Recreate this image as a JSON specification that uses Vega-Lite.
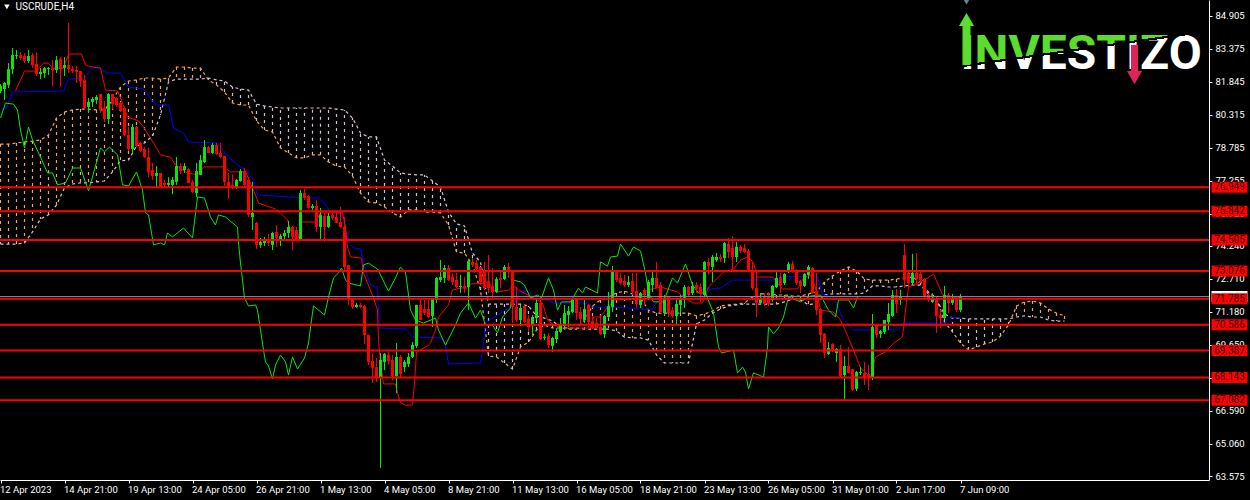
{
  "$schema": "https://vega.github.io/schema/vega-lite/v6.json",
  "description": "USCRUDE,H4",
  "width": 1209,
  "height": 480,
  "padding": {"left": 0, "top": 0, "right": 41, "bottom": 20},
  "autosize": {"type": "none"},
  "background": "#000000",
  "config": {
    "view": {"stroke": null},
    "axis": {"grid": false, "title": null, "domainColor": "#ffffff", "tickColor": "#ffffff", "labelColor": "#ffffff", "labelFont": "Roboto", "labelFontSize": 9.5, "tickSize": 3, "domainWidth": 1, "tickWidth": 1, "labelOverlap": false}
  },
  "datasets": {
    "candles": [
      {"i":0,"o":81.41,"h":81.73,"l":81.31,"c":81.64},{"i":1,"o":81.50,"h":81.83,"l":80.99,"c":81.78},{"i":2,"o":81.69,"h":82.70,"l":81.55,"c":82.42},{"i":3,"o":82.42,"h":83.40,"l":82.19,"c":83.07},{"i":4,"o":83.03,"h":83.31,"l":82.89,"c":83.07},
      {"i":5,"o":83.07,"h":83.21,"l":82.84,"c":82.94},{"i":6,"o":83.03,"h":83.17,"l":82.70,"c":82.80},{"i":7,"o":82.80,"h":83.31,"l":82.70,"c":83.03},{"i":8,"o":83.07,"h":83.17,"l":82.47,"c":82.61},{"i":9,"o":82.66,"h":83.21,"l":82.10,"c":82.19},
      {"i":10,"o":82.19,"h":82.47,"l":81.96,"c":82.29},{"i":11,"o":82.24,"h":82.52,"l":82.01,"c":82.47},{"i":12,"o":82.42,"h":82.52,"l":82.15,"c":82.47},{"i":13,"o":82.47,"h":82.84,"l":81.64,"c":82.38},{"i":14,"o":82.38,"h":83.03,"l":82.24,"c":82.84},
      {"i":15,"o":82.89,"h":82.98,"l":81.59,"c":82.42},{"i":16,"o":82.47,"h":82.98,"l":82.10,"c":82.61},{"i":17,"o":82.61,"h":84.56,"l":82.24,"c":82.42},{"i":18,"o":82.42,"h":82.57,"l":82.24,"c":82.33},{"i":19,"o":82.38,"h":82.57,"l":81.78,"c":82.29},
      {"i":20,"o":82.33,"h":82.33,"l":81.59,"c":81.87},{"i":21,"o":81.92,"h":82.15,"l":80.53,"c":80.62},{"i":22,"o":80.67,"h":81.08,"l":80.39,"c":80.90},{"i":23,"o":80.90,"h":81.13,"l":80.67,"c":81.04},{"i":24,"o":80.99,"h":81.22,"l":80.80,"c":81.13},
      {"i":25,"o":81.27,"h":81.27,"l":80.39,"c":80.57},{"i":26,"o":80.62,"h":80.94,"l":79.97,"c":80.11},{"i":27,"o":80.11,"h":81.31,"l":79.88,"c":81.27},{"i":28,"o":81.27,"h":81.27,"l":80.57,"c":80.80},{"i":29,"o":81.08,"h":81.13,"l":80.67,"c":80.76},
      {"i":30,"o":80.85,"h":80.90,"l":80.43,"c":80.48},{"i":31,"o":80.62,"h":80.71,"l":79.32,"c":79.37},{"i":32,"o":79.37,"h":79.74,"l":78.63,"c":78.72},{"i":33,"o":78.72,"h":79.88,"l":78.54,"c":79.74},{"i":34,"o":79.74,"h":79.79,"l":78.81,"c":78.86},
      {"i":35,"o":79.00,"h":79.05,"l":78.59,"c":78.63},{"i":36,"o":78.72,"h":78.81,"l":78.31,"c":78.35},{"i":37,"o":78.35,"h":78.77,"l":77.42,"c":77.66},{"i":38,"o":77.75,"h":78.07,"l":77.29,"c":77.47},{"i":39,"o":77.47,"h":77.93,"l":76.92,"c":77.61},
      {"i":40,"o":77.61,"h":77.61,"l":76.92,"c":76.96},{"i":41,"o":77.15,"h":77.29,"l":76.92,"c":77.06},{"i":42,"o":77.06,"h":77.42,"l":76.96,"c":77.15},{"i":43,"o":77.06,"h":77.42,"l":76.63,"c":77.29},{"i":44,"o":77.20,"h":78.35,"l":77.06,"c":77.93},
      {"i":45,"o":77.93,"h":78.07,"l":77.56,"c":77.70},{"i":46,"o":77.75,"h":78.07,"l":77.61,"c":77.93},{"i":47,"o":77.79,"h":77.84,"l":77.15,"c":77.15},{"i":48,"o":77.20,"h":77.29,"l":76.68,"c":76.73},{"i":49,"o":76.68,"h":78.07,"l":76.49,"c":77.70},
      {"i":50,"o":77.52,"h":78.45,"l":77.52,"c":78.21},{"i":51,"o":78.12,"h":79.14,"l":78.07,"c":78.81},{"i":52,"o":78.81,"h":78.86,"l":78.54,"c":78.54},{"i":53,"o":78.54,"h":79.00,"l":78.49,"c":78.91},{"i":54,"o":78.91,"h":79.00,"l":78.45,"c":78.49},
      {"i":55,"o":78.54,"h":79.00,"l":78.31,"c":78.35},{"i":56,"o":78.40,"h":78.40,"l":77.01,"c":77.20},{"i":57,"o":77.20,"h":77.61,"l":76.41,"c":76.96},{"i":58,"o":77.06,"h":77.56,"l":76.87,"c":76.92},{"i":59,"o":76.96,"h":77.33,"l":76.87,"c":77.29},
      {"i":60,"o":77.24,"h":77.79,"l":77.20,"c":77.70},{"i":61,"o":77.70,"h":77.84,"l":76.92,"c":77.06},{"i":62,"o":77.29,"h":77.42,"l":75.57,"c":75.67},{"i":63,"o":75.57,"h":77.20,"l":74.97,"c":75.76},{"i":64,"o":75.30,"h":75.34,"l":74.09,"c":74.28},
      {"i":65,"o":74.28,"h":74.60,"l":74.14,"c":74.42},{"i":66,"o":74.37,"h":74.65,"l":74.23,"c":74.55},{"i":67,"o":74.51,"h":74.79,"l":74.23,"c":74.37},{"i":68,"o":74.28,"h":74.88,"l":74.04,"c":74.83},{"i":69,"o":74.88,"h":75.20,"l":74.19,"c":74.60},
      {"i":70,"o":74.55,"h":74.79,"l":74.23,"c":74.69},{"i":71,"o":74.69,"h":74.97,"l":74.46,"c":74.83},{"i":72,"o":74.83,"h":75.39,"l":74.60,"c":75.11},{"i":73,"o":75.11,"h":75.16,"l":74.04,"c":74.65},{"i":74,"o":74.97,"h":75.11,"l":74.42,"c":74.51},
      {"i":75,"o":74.46,"h":76.82,"l":74.46,"c":76.68},{"i":76,"o":76.68,"h":76.87,"l":76.36,"c":76.45},{"i":77,"o":76.54,"h":76.59,"l":75.95,"c":75.99},{"i":78,"o":75.99,"h":76.17,"l":75.90,"c":76.08},{"i":79,"o":76.08,"h":76.36,"l":74.88,"c":75.11},
      {"i":80,"o":75.11,"h":75.99,"l":74.51,"c":75.67},{"i":81,"o":75.62,"h":75.76,"l":74.42,"c":75.11},{"i":82,"o":75.11,"h":75.76,"l":75.06,"c":75.62},{"i":83,"o":75.67,"h":75.76,"l":75.43,"c":75.53},{"i":84,"o":75.57,"h":75.76,"l":75.30,"c":75.30},
      {"i":85,"o":75.34,"h":76.04,"l":75.06,"c":75.11},{"i":86,"o":75.11,"h":75.57,"l":73.02,"c":73.26},{"i":87,"o":73.35,"h":73.35,"l":71.50,"c":71.82},{"i":88,"o":71.82,"h":71.82,"l":71.31,"c":71.40},{"i":89,"o":71.40,"h":71.59,"l":71.36,"c":71.50},
      {"i":90,"o":71.50,"h":71.59,"l":71.36,"c":71.40},{"i":91,"o":71.45,"h":71.50,"l":69.69,"c":70.11},{"i":92,"o":70.11,"h":70.11,"l":68.72,"c":68.86},{"i":93,"o":68.90,"h":69.27,"l":67.88,"c":68.58},{"i":94,"o":68.62,"h":69.04,"l":67.93,"c":68.16},
      {"i":95,"o":68.12,"h":69.27,"l":63.95,"c":68.95},{"i":96,"o":68.86,"h":69.27,"l":68.48,"c":69.23},{"i":97,"o":69.18,"h":69.32,"l":68.72,"c":68.90},{"i":98,"o":68.95,"h":69.18,"l":68.02,"c":68.21},{"i":99,"o":68.21,"h":69.73,"l":67.42,"c":69.09},
      {"i":100,"o":69.09,"h":69.18,"l":68.16,"c":68.30},{"i":101,"o":68.62,"h":68.95,"l":68.39,"c":68.86},{"i":102,"o":68.76,"h":69.27,"l":68.62,"c":69.09},{"i":103,"o":69.09,"h":69.78,"l":69.04,"c":69.64},{"i":104,"o":69.60,"h":71.50,"l":69.50,"c":71.50},
      {"i":105,"o":71.50,"h":71.73,"l":70.80,"c":70.80},{"i":106,"o":71.31,"h":71.73,"l":71.03,"c":71.12},{"i":107,"o":71.31,"h":71.73,"l":70.89,"c":70.94},{"i":108,"o":70.99,"h":71.82,"l":70.48,"c":71.82},{"i":109,"o":71.73,"h":72.79,"l":71.59,"c":72.75},
      {"i":110,"o":72.65,"h":73.58,"l":72.56,"c":72.79},{"i":111,"o":72.75,"h":73.35,"l":72.51,"c":73.21},{"i":112,"o":73.21,"h":73.35,"l":72.61,"c":72.65},{"i":113,"o":72.79,"h":72.98,"l":72.42,"c":72.56},{"i":114,"o":72.65,"h":72.98,"l":72.28,"c":72.33},
      {"i":115,"o":72.33,"h":72.89,"l":72.05,"c":72.38},{"i":116,"o":72.38,"h":72.79,"l":72.05,"c":72.28},{"i":117,"o":72.33,"h":73.63,"l":71.26,"c":73.53},{"i":118,"o":73.49,"h":73.67,"l":73.26,"c":73.35},{"i":119,"o":73.44,"h":73.58,"l":73.12,"c":73.16},
      {"i":120,"o":73.26,"h":73.26,"l":72.42,"c":72.56},{"i":121,"o":73.02,"h":73.49,"l":72.19,"c":72.28},{"i":122,"o":72.61,"h":73.81,"l":72.05,"c":72.28},{"i":123,"o":72.38,"h":73.21,"l":71.82,"c":72.10},{"i":124,"o":72.10,"h":72.79,"l":72.05,"c":72.70},
      {"i":125,"o":72.75,"h":73.12,"l":72.28,"c":72.65},{"i":126,"o":72.70,"h":73.35,"l":72.65,"c":73.26},{"i":127,"o":73.26,"h":73.44,"l":72.75,"c":73.02},{"i":128,"o":73.07,"h":73.12,"l":70.66,"c":71.40},{"i":129,"o":71.40,"h":72.33,"l":70.71,"c":70.80},
      {"i":130,"o":70.80,"h":71.50,"l":70.66,"c":71.36},{"i":131,"o":71.45,"h":71.50,"l":70.66,"c":70.71},{"i":132,"o":70.85,"h":71.03,"l":70.25,"c":70.48},{"i":133,"o":70.57,"h":71.03,"l":70.02,"c":70.94},{"i":134,"o":70.89,"h":71.82,"l":70.80,"c":71.59},
      {"i":135,"o":71.59,"h":71.73,"l":69.87,"c":69.92},{"i":136,"o":69.97,"h":70.16,"l":69.87,"c":70.02},{"i":137,"o":70.06,"h":70.20,"l":69.50,"c":69.64},{"i":138,"o":69.60,"h":70.02,"l":69.32,"c":69.97},{"i":139,"o":69.92,"h":70.43,"l":69.73,"c":70.29},
      {"i":140,"o":70.25,"h":70.89,"l":70.20,"c":70.62},{"i":141,"o":70.52,"h":71.50,"l":70.34,"c":71.12},{"i":142,"o":71.03,"h":71.45,"l":70.48,"c":71.22},{"i":143,"o":71.17,"h":71.78,"l":71.12,"c":71.73},{"i":144,"o":71.78,"h":71.82,"l":70.80,"c":71.12},
      {"i":145,"o":71.17,"h":71.40,"l":70.57,"c":70.85},{"i":146,"o":70.80,"h":71.73,"l":70.66,"c":71.31},{"i":147,"o":71.50,"h":71.54,"l":70.34,"c":70.71},{"i":148,"o":70.75,"h":70.99,"l":70.38,"c":70.43},{"i":149,"o":70.66,"h":70.89,"l":70.38,"c":70.43},
      {"i":150,"o":70.48,"h":71.03,"l":70.11,"c":70.15},{"i":151,"o":70.15,"h":71.03,"l":69.97,"c":70.99},{"i":152,"o":70.94,"h":72.10,"l":70.89,"c":71.45},{"i":153,"o":71.40,"h":73.30,"l":71.17,"c":73.02},{"i":154,"o":73.02,"h":73.07,"l":72.56,"c":72.65},
      {"i":155,"o":72.75,"h":72.98,"l":72.42,"c":72.51},{"i":156,"o":72.61,"h":72.89,"l":72.33,"c":72.42},{"i":157,"o":72.42,"h":72.84,"l":72.33,"c":72.56},{"i":158,"o":72.61,"h":72.98,"l":71.96,"c":72.10},{"i":159,"o":72.14,"h":72.98,"l":71.36,"c":71.54},
      {"i":160,"o":71.50,"h":72.10,"l":71.36,"c":72.05},{"i":161,"o":72.19,"h":72.28,"l":71.50,"c":71.96},{"i":162,"o":71.82,"h":72.65,"l":71.73,"c":72.56},{"i":163,"o":72.42,"h":73.02,"l":72.10,"c":72.75},{"i":164,"o":72.75,"h":73.49,"l":72.28,"c":72.28},
      {"i":165,"o":72.42,"h":72.56,"l":71.12,"c":71.17},{"i":166,"o":71.12,"h":71.96,"l":71.03,"c":71.82},{"i":167,"o":71.87,"h":71.91,"l":70.94,"c":71.12},{"i":168,"o":71.26,"h":71.40,"l":70.89,"c":70.99},{"i":169,"o":70.99,"h":71.82,"l":70.57,"c":71.54},
      {"i":170,"o":71.50,"h":71.96,"l":71.12,"c":71.78},{"i":171,"o":71.73,"h":72.42,"l":71.36,"c":72.33},{"i":172,"o":72.33,"h":72.38,"l":71.87,"c":71.96},{"i":173,"o":72.05,"h":72.56,"l":71.96,"c":72.38},{"i":174,"o":72.42,"h":72.56,"l":72.05,"c":72.24},
      {"i":175,"o":72.33,"h":72.51,"l":71.64,"c":72.01},{"i":176,"o":71.96,"h":73.53,"l":71.87,"c":73.49},{"i":177,"o":73.49,"h":73.67,"l":72.89,"c":73.30},{"i":178,"o":73.26,"h":73.81,"l":72.56,"c":73.72},{"i":179,"o":73.58,"h":73.90,"l":73.49,"c":73.72},
      {"i":180,"o":73.72,"h":73.86,"l":73.49,"c":73.63},{"i":181,"o":73.67,"h":74.42,"l":73.44,"c":74.37},{"i":182,"o":74.32,"h":74.60,"l":73.67,"c":73.95},{"i":183,"o":74.14,"h":74.69,"l":73.12,"c":73.72},{"i":184,"o":73.72,"h":74.42,"l":73.49,"c":74.19},
      {"i":185,"o":74.19,"h":74.28,"l":73.90,"c":74.00},{"i":186,"o":74.14,"h":74.32,"l":73.90,"c":73.95},{"i":187,"o":74.00,"h":74.09,"l":73.02,"c":73.07},{"i":188,"o":73.12,"h":73.49,"l":72.19,"c":72.28},{"i":189,"o":72.28,"h":73.02,"l":70.94,"c":71.59},
      {"i":190,"o":71.59,"h":72.05,"l":71.50,"c":71.82},{"i":191,"o":71.91,"h":72.05,"l":71.45,"c":71.54},{"i":192,"o":71.91,"h":72.10,"l":71.45,"c":71.54},{"i":193,"o":71.73,"h":72.42,"l":71.64,"c":72.38},{"i":194,"o":72.33,"h":73.02,"l":72.28,"c":72.75},
      {"i":195,"o":72.79,"h":72.98,"l":72.05,"c":72.42},{"i":196,"o":72.51,"h":72.98,"l":72.42,"c":72.93},{"i":197,"o":73.02,"h":73.49,"l":72.98,"c":73.39},{"i":198,"o":73.39,"h":73.53,"l":72.98,"c":73.07},{"i":199,"o":73.12,"h":73.16,"l":72.42,"c":72.51},
      {"i":200,"o":72.61,"h":72.65,"l":72.05,"c":72.38},{"i":201,"o":72.38,"h":72.98,"l":72.33,"c":72.93},{"i":202,"o":72.89,"h":73.35,"l":72.70,"c":73.26},{"i":203,"o":73.21,"h":73.26,"l":72.01,"c":72.05},{"i":204,"o":72.14,"h":72.98,"l":71.03,"c":71.26},
      {"i":205,"o":71.31,"h":71.36,"l":69.73,"c":70.11},{"i":206,"o":70.16,"h":70.20,"l":69.04,"c":69.27},{"i":207,"o":69.23,"h":69.78,"l":69.18,"c":69.50},{"i":208,"o":69.69,"h":69.73,"l":69.32,"c":69.36},{"i":209,"o":69.27,"h":69.50,"l":68.86,"c":69.46},
      {"i":210,"o":69.46,"h":69.64,"l":68.16,"c":68.21},{"i":211,"o":68.25,"h":69.13,"l":67.05,"c":68.67},{"i":212,"o":68.67,"h":69.55,"l":68.34,"c":68.34},{"i":213,"o":68.53,"h":68.53,"l":67.51,"c":67.56},{"i":214,"o":67.61,"h":68.44,"l":67.51,"c":68.39},
      {"i":215,"o":68.34,"h":68.62,"l":68.25,"c":68.39},{"i":216,"o":68.34,"h":68.86,"l":67.79,"c":68.16},{"i":217,"o":68.30,"h":68.72,"l":67.56,"c":68.16},{"i":218,"o":68.12,"h":71.08,"l":68.02,"c":70.48},{"i":219,"o":70.57,"h":70.62,"l":69.97,"c":70.11},
      {"i":220,"o":70.15,"h":70.34,"l":69.97,"c":70.29},{"i":221,"o":70.25,"h":70.80,"l":70.15,"c":70.80},{"i":222,"o":70.71,"h":71.59,"l":70.34,"c":71.08},{"i":223,"o":70.99,"h":72.19,"l":70.94,"c":71.96},{"i":224,"o":71.96,"h":72.24,"l":71.12,"c":71.54},
      {"i":225,"o":71.73,"h":72.19,"l":71.50,"c":71.91},{"i":226,"o":73.81,"h":74.32,"l":72.28,"c":72.65},{"i":227,"o":72.98,"h":73.12,"l":72.33,"c":72.51},{"i":228,"o":72.51,"h":73.86,"l":72.47,"c":72.98},{"i":229,"o":72.98,"h":73.90,"l":72.42,"c":72.70},
      {"i":230,"o":72.93,"h":73.02,"l":72.51,"c":72.65},{"i":231,"o":72.70,"h":72.75,"l":71.82,"c":71.87},{"i":232,"o":71.96,"h":72.05,"l":71.64,"c":71.73},{"i":233,"o":71.64,"h":72.05,"l":71.59,"c":71.82},{"i":234,"o":71.82,"h":71.87,"l":70.20,"c":70.99},
      {"i":235,"o":71.03,"h":71.26,"l":70.43,"c":70.89},{"i":236,"o":70.89,"h":72.38,"l":70.85,"c":71.96},{"i":237,"o":71.96,"h":72.05,"l":71.12,"c":71.59},{"i":238,"o":71.59,"h":72.01,"l":71.50,"c":71.78},{"i":239,"o":71.78,"h":71.82,"l":71.17,"c":71.26},
      {"i":240,"o":71.26,"h":72.01,"l":71.17,"c":71.87}
    ],
    "cloud": [
      {"i":0,"a":78.95,"b":74.32},{"i":2,"a":78.95,"b":74.32},{"i":4,"a":79.00,"b":74.32},{"i":6,"a":79.05,"b":74.37},{"i":8,"a":79.09,"b":74.88},{"i":10,"a":79.14,"b":75.48},{"i":12,"a":79.37,"b":75.67},{"i":14,"a":80.16,"b":76.13},{"i":16,"a":80.43,"b":76.92},{"i":18,"a":80.53,"b":77.10},
      {"i":20,"a":80.57,"b":77.15},{"i":22,"a":80.57,"b":77.15},{"i":24,"a":80.53,"b":77.20},{"i":26,"a":80.53,"b":77.24},{"i":28,"a":80.99,"b":77.66},{"i":30,"a":81.59,"b":78.17},{"i":32,"a":81.87,"b":78.21},{"i":34,"a":81.92,"b":78.86},{"i":36,"a":82.01,"b":79.00},{"i":38,"a":82.01,"b":79.32},
      {"i":40,"a":81.96,"b":80.30},{"i":42,"a":82.01,"b":81.83},{"i":44,"a":82.52,"b":81.96},{"i":46,"a":82.52,"b":81.96},{"i":48,"a":82.47,"b":81.96},{"i":50,"a":82.47,"b":81.96},{"i":52,"a":81.92,"b":82.01},{"i":54,"a":81.69,"b":81.92},{"i":56,"a":81.36,"b":81.87},{"i":58,"a":80.85,"b":81.59},
      {"i":60,"a":80.76,"b":81.50},{"i":62,"a":80.76,"b":81.45},{"i":64,"a":80.02,"b":80.80},{"i":66,"a":79.60,"b":80.71},{"i":68,"a":79.51,"b":80.67},{"i":70,"a":78.77,"b":80.62},{"i":72,"a":78.54,"b":80.62},{"i":74,"a":78.31,"b":80.62},{"i":76,"a":78.31,"b":80.62},{"i":78,"a":78.45,"b":80.62},
      {"i":80,"a":78.45,"b":80.62},{"i":82,"a":78.12,"b":80.62},{"i":84,"a":77.93,"b":80.57},{"i":86,"a":77.89,"b":80.53},{"i":88,"a":77.47,"b":80.16},{"i":90,"a":76.68,"b":79.46},{"i":92,"a":76.27,"b":79.28},{"i":94,"a":76.22,"b":79.28},{"i":96,"a":76.04,"b":78.21},{"i":98,"a":75.76,"b":77.93},
      {"i":100,"a":75.57,"b":77.61},{"i":102,"a":75.90,"b":77.56},{"i":104,"a":75.90,"b":77.52},{"i":106,"a":75.80,"b":77.52},{"i":108,"a":75.80,"b":77.24},{"i":110,"a":75.76,"b":76.96},{"i":112,"a":75.20,"b":75.80},{"i":114,"a":73.95,"b":75.25},{"i":116,"a":73.90,"b":75.16},{"i":118,"a":73.35,"b":73.90},
      {"i":120,"a":72.19,"b":73.49},{"i":122,"a":69.13,"b":71.54},{"i":124,"a":69.09,"b":71.54},{"i":126,"a":68.81,"b":71.54},{"i":128,"a":68.53,"b":71.54},{"i":130,"a":69.55,"b":71.54},{"i":132,"a":69.78,"b":71.45},{"i":134,"a":70.34,"b":70.99},{"i":136,"a":70.57,"b":70.89},{"i":138,"a":70.43,"b":70.76},
      {"i":140,"a":70.43,"b":70.48},{"i":142,"a":70.38,"b":70.43},{"i":144,"a":70.38,"b":70.43},{"i":146,"a":70.80,"b":70.38},{"i":148,"a":71.45,"b":70.38},{"i":150,"a":71.73,"b":70.38},{"i":152,"a":71.87,"b":70.38},{"i":154,"a":72.05,"b":70.29},{"i":156,"a":72.14,"b":70.01},{"i":158,"a":72.01,"b":69.97},
      {"i":160,"a":71.82,"b":69.97},{"i":162,"a":71.26,"b":69.87},{"i":164,"a":71.12,"b":69.18},{"i":166,"a":71.12,"b":68.81},{"i":168,"a":71.12,"b":68.81},{"i":170,"a":71.12,"b":68.81},{"i":172,"a":71.12,"b":68.81},{"i":174,"a":70.99,"b":70.62},{"i":176,"a":71.08,"b":70.80},{"i":178,"a":71.22,"b":71.12},
      {"i":180,"a":71.45,"b":71.31},{"i":182,"a":71.50,"b":71.45},{"i":184,"a":71.54,"b":71.50},{"i":186,"a":71.59,"b":71.54},{"i":188,"a":71.87,"b":71.54},{"i":190,"a":72.01,"b":71.54},{"i":192,"a":72.01,"b":71.54},{"i":194,"a":71.96,"b":71.54},{"i":196,"a":71.96,"b":71.64},{"i":198,"a":71.91,"b":71.77},
      {"i":200,"a":71.91,"b":71.73},{"i":202,"a":72.01,"b":71.50},{"i":204,"a":72.10,"b":71.59},{"i":206,"a":72.56,"b":71.96},{"i":208,"a":72.84,"b":72.01},{"i":210,"a":73.07,"b":72.01},{"i":212,"a":73.26,"b":72.01},{"i":214,"a":73.07,"b":72.01},{"i":216,"a":72.70,"b":72.05},{"i":218,"a":72.65,"b":72.38},
      {"i":220,"a":72.65,"b":72.38},{"i":222,"a":72.65,"b":72.33},{"i":224,"a":72.70,"b":72.33},{"i":226,"a":72.75,"b":72.38},{"i":228,"a":72.79,"b":72.42},{"i":230,"a":72.56,"b":72.42},{"i":232,"a":72.10,"b":72.01},{"i":234,"a":71.82,"b":71.73},{"i":236,"a":70.71,"b":71.08},{"i":238,"a":70.25,"b":70.89},
      {"i":240,"a":69.73,"b":70.89},{"i":242,"a":69.41,"b":70.85},{"i":244,"a":69.55,"b":70.85},{"i":246,"a":69.69,"b":70.85},{"i":248,"a":69.78,"b":70.85},{"i":250,"a":70.06,"b":70.85},{"i":252,"a":70.57,"b":70.85},{"i":254,"a":71.45,"b":70.94},{"i":256,"a":71.64,"b":70.99},{"i":258,"a":71.68,"b":70.94},
      {"i":260,"a":71.59,"b":70.94},{"i":262,"a":71.31,"b":70.80},{"i":264,"a":71.12,"b":70.75},{"i":266,"a":70.99,"b":70.75}
    ],
    "tenkan": [
      {"i":3.75,"v":81.41},{"i":6,"v":82.33},{"i":9,"v":82.33},{"i":10.75,"v":82.70},{"i":12,"v":82.70},{"i":13,"v":82.47},{"i":15.75,"v":82.47},{"i":17,"v":83.12},{"i":20.25,"v":83.12},{"i":21.25,"v":82.61},{"i":23,"v":82.52},{"i":25,"v":82.47},{"i":26.25,"v":81.45},{"i":29.25,"v":81.41},{"i":30.5,"v":80.85},{"i":31.75,"v":80.20},{"i":34.5,"v":80.02},{"i":35.75,"v":79.74},{"i":38.25,"v":79.00},{"i":40,"v":78.45},{"i":42.5,"v":78.35},{"i":43.75,"v":77.98},{"i":46.75,"v":77.61},{"i":49.25,"v":77.52},{"i":50.75,"v":77.89},{"i":55.75,"v":77.89},{"i":57.5,"v":77.66},{"i":61.25,"v":77.66},{"i":63.25,"v":76.82},{"i":64.5,"v":76.22},{"i":68.75,"v":75.94},{"i":70,"v":75.76},{"i":71.75,"v":75.43},{"i":72.5,"v":74.97},{"i":73.25,"v":74.65},{"i":74.5,"v":74.60},{"i":75,"v":75.34},{"i":78.75,"v":75.34},{"i":80,"v":75.76},{"i":85.5,"v":75.76},{"i":86.25,"v":75.11},{"i":86.75,"v":74.18},{"i":87.5,"v":73.72},{"i":90.25,"v":73.67},{"i":90.75,"v":72.98},{"i":91.75,"v":72.51},{"i":93.25,"v":71.82},{"i":94.25,"v":71.26},{"i":94.5,"v":69.87},{"i":95,"v":68.81},{"i":95.75,"v":67.84},{"i":98.75,"v":67.84},{"i":99.25,"v":67.42},{"i":100,"v":66.96},{"i":101.25,"v":66.86},{"i":103,"v":66.86},{"i":103.5,"v":67.88},{"i":104,"v":69.32},{"i":106.75,"v":69.60},{"i":107.5,"v":69.73},{"i":108.75,"v":70.34},{"i":109.5,"v":70.94},{"i":112,"v":71.50},{"i":113,"v":72.19},{"i":115,"v":72.28},{"i":116.75,"v":72.28},{"i":117.5,"v":72.47},{"i":121.25,"v":72.51},{"i":122,"v":72.56},{"i":123.25,"v":72.19},{"i":124.25,"v":72.10},{"i":127,"v":72.19},{"i":128.25,"v":72.42},{"i":129.5,"v":72.19},{"i":133.25,"v":71.82},{"i":135.5,"v":71.59},{"i":136.75,"v":70.80},{"i":138.25,"v":70.57},{"i":140.75,"v":70.43},{"i":147.5,"v":70.43},{"i":148.25,"v":70.94},{"i":150,"v":70.94},{"i":151.75,"v":71.40},{"i":153.75,"v":71.73},{"i":159.25,"v":71.78},{"i":161.75,"v":72.19},{"i":165,"v":72.33},{"i":169.25,"v":72.10},{"i":173,"v":71.59},{"i":175.5,"v":71.59},{"i":177,"v":72.33},{"i":178.75,"v":72.65},{"i":180.75,"v":73.02},{"i":183.25,"v":73.16},{"i":185,"v":73.58},{"i":187,"v":73.72},{"i":188.25,"v":73.44},{"i":189.25,"v":72.79},{"i":193,"v":72.79},{"i":194.25,"v":72.51},{"i":195.5,"v":72.24},{"i":199.25,"v":72.24},{"i":200.75,"v":72.75},{"i":202.5,"v":72.89},{"i":203.75,"v":72.28},{"i":205,"v":71.26},{"i":208.25,"v":71.17},{"i":210,"v":70.80},{"i":212,"v":69.97},{"i":213.25,"v":69.41},{"i":215,"v":68.58},{"i":217.5,"v":68.16},{"i":218.75,"v":69.09},{"i":221.25,"v":69.32},{"i":223.25,"v":69.73},{"i":225.5,"v":70.01},{"i":226.25,"v":71.26},{"i":227,"v":72.33},{"i":229.25,"v":72.51},{"i":231.75,"v":72.75},{"i":233.25,"v":72.93},{"i":234.25,"v":72.51},{"i":235.5,"v":71.96},{"i":237.5,"v":71.87},{"i":239.75,"v":71.82}
    ],
    "kijun": [
      {"i":0,"v":80.53},{"i":1.5,"v":80.62},{"i":3,"v":81.36},{"i":15.75,"v":81.41},{"i":17,"v":81.96},{"i":20.75,"v":82.01},{"i":23,"v":82.47},{"i":25,"v":82.47},{"i":26.75,"v":82.24},{"i":30,"v":82.24},{"i":32,"v":81.59},{"i":35.75,"v":81.50},{"i":38.75,"v":80.76},{"i":42,"v":80.76},{"i":43.25,"v":79.69},{"i":45.75,"v":79.46},{"i":47,"v":79.05},{"i":54.25,"v":79.00},{"i":57,"v":78.35},{"i":59.25,"v":77.98},{"i":61.25,"v":77.75},{"i":63.25,"v":77.29},{"i":64.25,"v":76.59},{"i":72.5,"v":76.50},{"i":79.25,"v":76.45},{"i":80.75,"v":76.27},{"i":82.5,"v":75.80},{"i":85,"v":75.76},{"i":85.75,"v":75.43},{"i":87,"v":74.42},{"i":88.25,"v":74.14},{"i":90,"v":74.09},{"i":90.75,"v":73.44},{"i":92.5,"v":72.42},{"i":94.25,"v":72.33},{"i":94.75,"v":70.43},{"i":101.25,"v":70.38},{"i":103.25,"v":70.01},{"i":110,"v":69.97},{"i":111.25,"v":69.64},{"i":112,"v":68.76},{"i":120,"v":68.81},{"i":120.5,"v":69.32},{"i":121.25,"v":70.66},{"i":125,"v":71.12},{"i":128.25,"v":71.50},{"i":130,"v":72.14},{"i":131.75,"v":72.14},{"i":133.25,"v":71.82},{"i":136.75,"v":71.73},{"i":138.25,"v":71.59},{"i":146.75,"v":71.59},{"i":148,"v":71.40},{"i":153.25,"v":71.40},{"i":160,"v":71.31},{"i":163,"v":71.31},{"i":164.25,"v":71.68},{"i":175.75,"v":71.82},{"i":177.5,"v":72.24},{"i":180,"v":72.28},{"i":183,"v":72.65},{"i":193.25,"v":72.65},{"i":194.5,"v":72.84},{"i":204.25,"v":72.79},{"i":205.5,"v":71.96},{"i":208.25,"v":71.87},{"i":210.75,"v":70.80},{"i":213.25,"v":70.34},{"i":224.25,"v":70.34},{"i":225.75,"v":70.66},{"i":236.25,"v":70.66},{"i":237,"v":70.94},{"i":240,"v":70.89}
    ],
    "chikou": [
      {"i":0,"v":80.16},{"i":1.25,"v":80.85},{"i":3.25,"v":80.80},{"i":4.25,"v":80.53},{"i":5,"v":79.60},{"i":6,"v":78.77},{"i":7,"v":79.74},{"i":8,"v":79.14},{"i":10,"v":78.35},{"i":11.75,"v":77.61},{"i":13,"v":77.61},{"i":14.25,"v":77.06},{"i":16.25,"v":77.15},{"i":18,"v":77.84},{"i":20,"v":77.84},{"i":22,"v":76.78},{"i":25,"v":78.77},{"i":26,"v":78.59},{"i":27.25,"v":78.81},{"i":29.25,"v":78.45},{"i":30.5,"v":77.06},{"i":32,"v":77.01},{"i":34,"v":77.66},{"i":35.5,"v":76.82},{"i":36.25,"v":75.76},{"i":37,"v":75.67},{"i":38.25,"v":74.28},{"i":40,"v":74.37},{"i":41,"v":74.28},{"i":41.75,"v":74.83},{"i":43,"v":74.65},{"i":45.75,"v":75.06},{"i":48,"v":74.60},{"i":49.25,"v":76.50},{"i":51,"v":76.45},{"i":52.5,"v":75.57},{"i":53.75,"v":75.20},{"i":54.5,"v":75.67},{"i":56.25,"v":75.57},{"i":59.25,"v":75.11},{"i":59.5,"v":74.37},{"i":60,"v":73.44},{"i":60.5,"v":72.65},{"i":61,"v":71.82},{"i":62,"v":71.45},{"i":63.75,"v":71.50},{"i":64.25,"v":71.26},{"i":65,"v":70.34},{"i":65.75,"v":69.41},{"i":66.25,"v":68.86},{"i":67,"v":68.67},{"i":68,"v":68.07},{"i":68.75,"v":68.72},{"i":70,"v":69.18},{"i":71.25,"v":68.86},{"i":72,"v":68.25},{"i":73,"v":69.09},{"i":74.25,"v":68.53},{"i":76,"v":69.04},{"i":77,"v":69.73},{"i":77.75,"v":70.80},{"i":78.25,"v":71.45},{"i":81,"v":71.03},{"i":82,"v":71.87},{"i":83.25,"v":72.75},{"i":84.5,"v":72.98},{"i":85.25,"v":73.21},{"i":86.25,"v":72.65},{"i":87,"v":72.51},{"i":90,"v":72.38},{"i":90.75,"v":73.35},{"i":92,"v":73.44},{"i":94.25,"v":73.16},{"i":97,"v":72.14},{"i":98.75,"v":72.75},{"i":100,"v":73.26},{"i":101.25,"v":73.02},{"i":102.5,"v":71.26},{"i":103.75,"v":70.80},{"i":105.75,"v":70.66},{"i":108.75,"v":70.89},{"i":109.5,"v":70.34},{"i":111.25,"v":69.64},{"i":113.75,"v":70.57},{"i":115,"v":71.12},{"i":117,"v":71.59},{"i":118.75,"v":70.89},{"i":120,"v":71.26},{"i":121.25,"v":70.57},{"i":123,"v":70.57},{"i":124.25,"v":70.20},{"i":125.5,"v":70.94},{"i":127.5,"v":71.36},{"i":128.25,"v":72.65},{"i":130,"v":72.56},{"i":131,"v":72.42},{"i":132.5,"v":71.82},{"i":134.25,"v":71.96},{"i":135.25,"v":71.82},{"i":137,"v":72.75},{"i":138.25,"v":72.19},{"i":139.25,"v":71.26},{"i":140.25,"v":71.64},{"i":142.5,"v":71.64},{"i":144.5,"v":72.28},{"i":145.5,"v":72.05},{"i":146.25,"v":72.33},{"i":149.25,"v":72.05},{"i":150,"v":73.49},{"i":151.75,"v":73.30},{"i":152.5,"v":73.72},{"i":154.25,"v":73.76},{"i":155,"v":74.32},{"i":157,"v":73.76},{"i":158.25,"v":74.18},{"i":160,"v":74.00},{"i":161.25,"v":72.98},{"i":162,"v":72.05},{"i":163.25,"v":71.64},{"i":165.75,"v":71.64},{"i":168,"v":72.75},{"i":169.25,"v":72.51},{"i":171.25,"v":73.40},{"i":173,"v":72.42},{"i":174.5,"v":72.05},{"i":176.25,"v":72.05},{"i":178.25,"v":71.12},{"i":179.5,"v":69.55},{"i":180.25,"v":69.27},{"i":183.25,"v":69.41},{"i":184.25,"v":68.35},{"i":185.5,"v":68.62},{"i":186.25,"v":68.39},{"i":187,"v":67.61},{"i":188.25,"v":68.35},{"i":190.75,"v":68.16},{"i":191.75,"v":69.55},{"i":192,"v":70.48},{"i":193.25,"v":70.16},{"i":194.5,"v":70.43},{"i":195.75,"v":70.94},{"i":197,"v":71.87},{"i":200,"v":71.64},{"i":202.5,"v":71.91},{"i":205,"v":71.96},{"i":207,"v":71.26},{"i":208.75,"v":70.94},{"i":209.5,"v":71.73},{"i":212,"v":71.73},{"i":213.25,"v":71.36},{"i":214.25,"v":71.87}
    ],
    "levels": [
      {"level":76.949},{"level":75.842},{"level":74.505},{"level":73.076},{"level":71.785},{"level":70.586},{"level":69.387},{"level":68.143},{"level":67.082}
    ],
    "current": [{"price":71.89}]
  },
  "layer": [
    {
      "data": {"name": "cloud"},
      "mark": {"type": "rule", "strokeWidth": 1.2, "strokeDash": [3, 4]},
      "encoding": {
        "x": {
          "field": "i", "type": "quantitative",
          "scale": {"domain": [-0.125, 302.125], "nice": false, "zero": false},
          "axis": {
            "orient": "bottom",
            "values": [0, 16, 32, 48, 64, 80, 96, 112, 128, 144, 160, 176, 192, 208, 224, 240],
            "tickCount": 40,
            "labelAlign": "left", "labelBaseline": "top", "labelPadding": 1, "labelOffset": -1, "labelFlush": false,
            "labelExpr": "['12 Apr 2023','14 Apr 21:00','19 Apr 13:00','24 Apr 05:00','26 Apr 21:00','1 May 13:00','4 May 05:00','8 May 21:00','11 May 13:00','16 May 05:00','18 May 21:00','23 May 13:00','26 May 05:00','31 May 01:00','2 Jun 17:00','7 Jun 09:00'][datum.value / 16]"
          }
        },
        "y": {
          "field": "a", "type": "quantitative",
          "scale": {"domain": [63.39, 85.623], "nice": false, "zero": false},
          "axis": {
            "orient": "right",
            "values": [84.905, 83.375, 81.845, 80.315, 78.785, 77.255, 75.725, 74.24, 72.71, 71.18, 69.65, 68.12, 66.59, 65.06, 63.575],
            "tickCount": 40,
            "format": ".3f", "labelPadding": 3, "labelFlush": false
          }
        },
        "y2": {"field": "b"},
        "color": {"condition": {"test": "datum.a >= datum.b", "value": "#f4a460"}, "value": "#d8bfd8"}
      }
    },
    {
      "data": {"name": "cloud"},
      "mark": {"type": "line", "stroke": "#f4a460", "strokeWidth": 1.2, "strokeDash": [3, 3]},
      "encoding": {
        "x": {"field": "i", "type": "quantitative"},
        "y": {"field": "a", "type": "quantitative"}
      }
    },
    {
      "data": {"name": "cloud"},
      "mark": {"type": "line", "stroke": "#d8bfd8", "strokeWidth": 1.2, "strokeDash": [3, 3]},
      "encoding": {
        "x": {"field": "i", "type": "quantitative"},
        "y": {"field": "b", "type": "quantitative"}
      }
    },
    {
      "data": {"name": "kijun"},
      "mark": {"type": "line", "stroke": "#0000ff", "strokeWidth": 1},
      "encoding": {
        "x": {"field": "i", "type": "quantitative"},
        "y": {"field": "v", "type": "quantitative"}
      }
    },
    {
      "data": {"name": "tenkan"},
      "mark": {"type": "line", "stroke": "#ff0000", "strokeWidth": 1},
      "encoding": {
        "x": {"field": "i", "type": "quantitative"},
        "y": {"field": "v", "type": "quantitative"}
      }
    },
    {
      "data": {"name": "chikou"},
      "mark": {"type": "line", "stroke": "#0ae60a", "strokeWidth": 1},
      "encoding": {
        "x": {"field": "i", "type": "quantitative"},
        "y": {"field": "v", "type": "quantitative"}
      }
    },
    {
      "data": {"name": "candles"},
      "mark": {"type": "rule", "strokeWidth": 1},
      "encoding": {
        "x": {"field": "i", "type": "quantitative"},
        "y": {"field": "h", "type": "quantitative"},
        "y2": {"field": "l"},
        "color": {"condition": {"test": "datum.c >= datum.o", "value": "#0ae60a"}, "value": "#ff0000"}
      }
    },
    {
      "data": {"name": "candles"},
      "mark": {"type": "rule", "strokeWidth": 3},
      "encoding": {
        "x": {"field": "i", "type": "quantitative"},
        "y": {"field": "o", "type": "quantitative"},
        "y2": {"field": "c"},
        "color": {"condition": {"test": "datum.c >= datum.o", "value": "#0ae60a"}, "value": "#ff0000"}
      }
    },
    {
      "data": {"name": "current"},
      "mark": {"type": "rule", "stroke": "#778899", "strokeWidth": 1},
      "encoding": {"y": {"field": "price", "type": "quantitative"}}
    },
    {
      "data": {"name": "current"},
      "mark": {"type": "rule", "stroke": "#ffffff", "strokeWidth": 11},
      "encoding": {
        "x": {"datum": 302.75, "type": "quantitative"},
        "x2": {"datum": 311.75},
        "y": {"field": "price", "type": "quantitative"}
      }
    },
    {
      "data": {"name": "levels"},
      "mark": {"type": "rule", "stroke": "#ff0000", "strokeWidth": 2},
      "encoding": {"y": {"field": "level", "type": "quantitative"}}
    },
    {
      "data": {"name": "levels"},
      "mark": {"type": "rule", "stroke": "#ff0000", "strokeWidth": 11},
      "encoding": {
        "x": {"datum": 302.75, "type": "quantitative"},
        "x2": {"datum": 311.75},
        "y": {"field": "level", "type": "quantitative"}
      }
    },
    {
      "data": {"name": "levels"},
      "mark": {"type": "text", "font": "Roboto", "fontSize": 10, "color": "#300000", "align": "center", "baseline": "middle"},
      "encoding": {
        "x": {"datum": 307.25, "type": "quantitative"},
        "y": {"field": "level", "type": "quantitative"},
        "text": {"field": "level", "format": ".3f"}
      }
    },
    {
      "data": {"values": [{"name": "USCRUDE,H4"}]},
      "mark": {"type": "text", "font": "Roboto", "fontSize": 10, "color": "#ffffff", "align": "left", "baseline": "middle"},
      "encoding": {
        "x": {"datum": 3.75, "type": "quantitative"},
        "y": {"datum": 85.3, "type": "quantitative"},
        "text": {"field": "name"}
      }
    },
    {
      "data": {"values": [{"name": "menu"}]},
      "mark": {"type": "point", "shape": "triangle-down", "filled": true, "color": "#ffffff", "opacity": 1, "size": 30},
      "encoding": {
        "x": {"datum": 1.6, "type": "quantitative"},
        "y": {"datum": 85.31, "type": "quantitative"}
      }
    },
    {
      "data": {"values": [{"name": "INVESTIZO"}]},
      "mark": {
        "type": "text", "font": "Roboto", "fontWeight": "bold", "fontSize": 48, "align": "left", "baseline": "alphabetic",
        "color": {
          "gradient": "linear", "x1": 0, "y1": 0, "x2": 0.579, "y2": 0.96,
          "stops": [
            {"offset": 0, "color": "#5bdd2d"},
            {"offset": 0.55, "color": "#5bdd2d"},
            {"offset": 0.55, "color": "#000000"},
            {"offset": 0.58, "color": "#000000"},
            {"offset": 0.58, "color": "#ffffff"},
            {"offset": 1, "color": "#ffffff"}
          ]
        }
      },
      "encoding": {
        "x": {"datum": 240, "type": "quantitative"},
        "y": {"datum": 82.42, "type": "quantitative"},
        "text": {"field": "name"}
      }
    },
    {
      "data": {"values": [{"name": "up shaft"}]},
      "mark": {"type": "rule", "stroke": "#5bdd2d", "strokeWidth": 8},
      "encoding": {
        "x": {"datum": 241.5, "type": "quantitative"},
        "y": {"datum": 84.42, "type": "quantitative"},
        "y2": {"datum": 82.61}
      }
    },
    {
      "data": {"values": [{"name": "up head"}]},
      "mark": {"type": "point", "shape": "triangle-up", "filled": true, "color": "#5bdd2d", "opacity": 1, "size": 230},
      "encoding": {
        "x": {"datum": 241.5, "type": "quantitative"},
        "y": {"datum": 84.72, "type": "quantitative"}
      }
    },
    {
      "data": {"values": [{"name": "down shaft"}]},
      "mark": {"type": "rule", "stroke": "#dc2459", "strokeWidth": 7},
      "encoding": {
        "x": {"datum": 283.5, "type": "quantitative"},
        "y": {"datum": 83.54, "type": "quantitative"},
        "y2": {"datum": 82.29}
      }
    },
    {
      "data": {"values": [{"name": "down head"}]},
      "mark": {"type": "point", "shape": "triangle-down", "filled": true, "color": "#dc2459", "opacity": 1, "size": 230},
      "encoding": {
        "x": {"datum": 283.5, "type": "quantitative"},
        "y": {"datum": 82.03, "type": "quantitative"}
      }
    },
    {
      "data": {"values": [{"name": "top marker"}]},
      "mark": {"type": "point", "shape": "triangle-down", "filled": true, "color": "#708090", "opacity": 1, "size": 90},
      "encoding": {
        "x": {"datum": 241.5, "type": "quantitative"},
        "y": {"datum": 85.6, "type": "quantitative"}
      }
    }
  ]
}
